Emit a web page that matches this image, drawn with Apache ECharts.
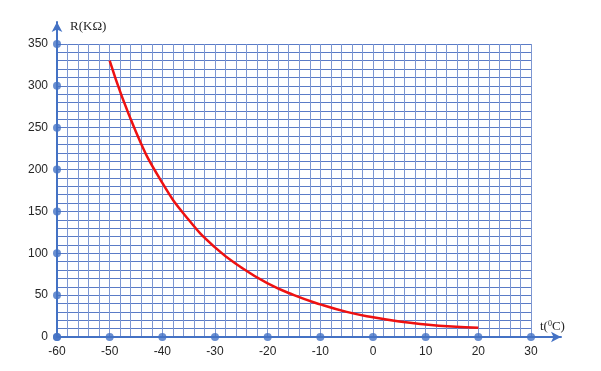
<!DOCTYPE html>
<html>
<head>
<meta charset="utf-8">
<script src="https://cdn.jsdelivr.net/npm/echarts@6/dist/echarts.min.js"></script>
<style>
html,body{margin:0;padding:0;background:#fff;}
#chart{width:601px;height:371px;}
</style>
</head>
<body>
<div id="chart"></div>
<script>
// Data
var temperatures = [-50, -45, -40, -35, -30, -25, -20, -15, -10, -5, 0, 5, 10, 15, 20];
var resistances  = [330, 245, 184, 140, 107, 83, 64, 50, 39, 30, 23.5, 18.5, 15, 12.5, 11];
var xTickValues = [-60, -50, -40, -30, -20, -10, 0, 10, 20, 30];
var yTickValues = [0, 50, 100, 150, 200, 250, 300, 350];
var yAxisTitle = 'R(KΩ)';

var axisBlue = '#4472C4';
var gridBlue = '#5a7bc6';
var vGridBlue = '#7d97d2';
var labelFont = 'Liberation Sans';

var chart = echarts.init(document.getElementById('chart'));
chart.setOption({
  animation: false,
  backgroundColor: '#ffffff',
  grid: [
    {left: 57, right: 70, top: 44, bottom: 34, containLabel: false},
    {left: 57, right: 40, top: 22, bottom: 34, containLabel: false}
  ],
  xAxis: [
    {
      gridIndex: 0, type: 'value', min: -60, max: 30, interval: 10,
      axisLine: {show: false, onZero: false}, axisTick: {show: false},
      axisLabel: {color: '#262626', fontSize: 12, fontFamily: labelFont, margin: 9},
      splitLine: {show: true, lineStyle: {color: vGridBlue, width: 1}},
      minorTick: {show: false, splitNumber: 5},
      minorSplitLine: {show: true, lineStyle: {color: vGridBlue, width: 1}},
      name: '{a|t(}{s|0}{a|C)}', nameLocation: 'end', nameGap: 9,
      nameTextStyle: {
        verticalAlign: 'bottom', padding: [0, 0, 3, 0],
        rich: {
          a: {fontFamily: 'Liberation Serif', fontSize: 13, color: '#262626', lineHeight: 14},
          s: {fontFamily: 'Liberation Serif', fontSize: 8, color: '#262626', verticalAlign: 'top', lineHeight: 14, padding: [0, 0, 6, 0]}
        }
      }
    },
    {
      gridIndex: 1, type: 'value', min: -60, max: 35.5,
      axisLine: {show: true, onZero: false, lineStyle: {color: axisBlue, width: 2}, symbol: ['none', 'arrow'], symbolSize: [8, 10]},
      axisTick: {show: false}, axisLabel: {show: false}, splitLine: {show: false}
    }
  ],
  yAxis: [
    {
      gridIndex: 0, type: 'value', min: 0, max: 350, interval: 50,
      axisLine: {show: false, onZero: false}, axisTick: {show: false},
      axisLabel: {color: '#262626', fontSize: 12, fontFamily: labelFont, margin: 9},
      splitLine: {show: true, lineStyle: {color: gridBlue, width: 1}},
      minorTick: {show: false, splitNumber: 5},
      minorSplitLine: {show: true, lineStyle: {color: gridBlue, width: 1}},
      name: yAxisTitle, nameLocation: 'end', nameGap: 11,
      nameTextStyle: {fontFamily: 'Liberation Serif', fontSize: 13, color: '#262626', align: 'left', padding: [0, 0, 0, 13]}
    },
    {
      gridIndex: 1, type: 'value', min: 0, max: 375,
      axisLine: {show: true, onZero: false, lineStyle: {color: axisBlue, width: 2}, symbol: ['none', 'arrow'], symbolSize: [8, 10]},
      axisTick: {show: false}, axisLabel: {show: false}, splitLine: {show: false}
    }
  ],
  series: [
    {
      type: 'line', xAxisIndex: 0, yAxisIndex: 0, smooth: 0.5, showSymbol: false,
      lineStyle: {color: '#ee1111', width: 2.5},
      data: temperatures.map(function (t, i) { return [t, resistances[i]]; }),
      z: 5
    },
    {
      type: 'scatter', xAxisIndex: 0, yAxisIndex: 0, clip: false, symbolSize: 8,
      itemStyle: {color: axisBlue},
      data: xTickValues.map(function (v) { return [v, 0]; }).concat(
            yTickValues.map(function (v) { return [-60, v]; })),
      z: 10
    }
  ]
});
</script>
</body>
</html>
